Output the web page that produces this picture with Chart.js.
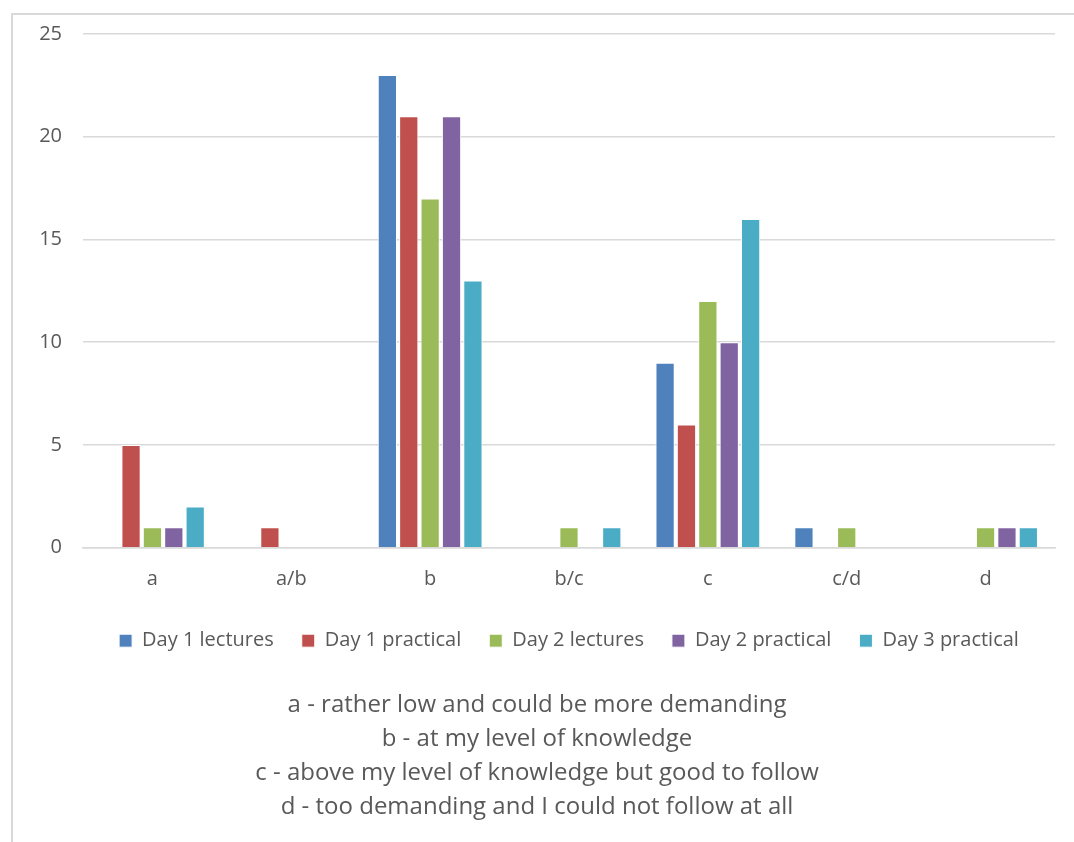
<!DOCTYPE html>
<html>
<head>
<meta charset="utf-8">
<script src="https://cdn.jsdelivr.net/npm/chart.js@4"></script>
<style>
  html, body { margin: 0; padding: 0; background: #fff; }
  #wrap { position: relative; width: 1074px; height: 842px; overflow: hidden; }
  #frame { position: absolute; left: 11px; top: 13px; width: 1200px; height: 1000px; border: 2px solid #d9d9d9; box-sizing: border-box; }
  #box { position: absolute; left: 0; top: 0; width: 1074px; height: 842px; }
</style>
</head>
<body>
<div id="wrap">
  <div id="frame"></div>
  <div id="box"><canvas id="c"></canvas></div>
</div>
<script>
// 分类与系列数据
const categories = ["a", "a/b", "b", "b/c", "c", "c/d", "d"];
const day1Lectures  = [null, null, 23, null, 9, 1, null];
const day1Practical = [5, 1, 21, null, 6, null, null];
const day2Lectures  = [1, null, 17, 1, 12, 1, 1];
const day2Practical = [1, null, 21, null, 10, null, 1];
const day3Practical = [2, null, 13, 1, 16, null, 1];
const yTicks = [0, 5, 10, 15, 20, 25];
const notes = [
  "a - rather low and could be more demanding",
  "b - at my level of knowledge",
  "c - above my level of knowledge but good to follow",
  "d - too demanding and I could not follow at all"
];

const FONT = "'Open Sans', 'Noto Sans', sans-serif";
const TXT = "#595959";

const series = [
  { label: "Day 1 lectures",  data: day1Lectures,  color: "#4f81bd" },
  { label: "Day 1 practical", data: day1Practical, color: "#c0504d" },
  { label: "Day 2 lectures",  data: day2Lectures,  color: "#9bbb59" },
  { label: "Day 2 practical", data: day2Practical, color: "#8064a2" },
  { label: "Day 3 practical", data: day3Practical, color: "#4bacc6" }
];

new Chart(document.getElementById("c"), {
  type: "bar",
  data: {
    labels: categories,
    datasets: series.map(s => ({
      label: s.label, data: s.data,
      backgroundColor: s.color, borderColor: "#ffffff", borderWidth: 1,
      categoryPercentage: 0.77, barPercentage: 0.9
    }))
  },
  options: {
    responsive: true, maintainAspectRatio: false, animation: false,
    layout: { padding: { left: 19, right: 19, top: 34, bottom: 18 } },
    plugins: {
      legend: {
        position: "bottom", fullSize: false,
        labels: { color: TXT, font: { family: FONT, size: 20 }, boxWidth: 13, boxHeight: 13, padding: 28 }
      },
      title: {
        display: true, position: "bottom", text: notes,
        color: TXT, font: { family: FONT, size: 24, weight: "normal", lineHeight: 1.42 },
        padding: { top: 27, bottom: 0 }
      },
      tooltip: { enabled: false }
    },
    scales: {
      x: {
        afterFit(scale) { scale.height -= 9; },
        grid: { display: false, drawTicks: false },
        border: { display: true, color: "#d9d9d9", width: 1.5 },
        ticks: { color: TXT, font: { family: FONT, size: 20 }, padding: 20 }
      },
      y: {
        min: 0, max: 25,
        afterFit(scale) { scale.width = 64; },
        afterBuildTicks(scale) { scale.ticks = yTicks.map(v => ({ value: v })); },
        grid: { color: "#d9d9d9", lineWidth: 1.5, drawTicks: false },
        border: { display: false },
        ticks: { color: TXT, font: { family: FONT, size: 20 }, padding: 21 }
      }
    }
  }
});
</script>
</body>
</html>
